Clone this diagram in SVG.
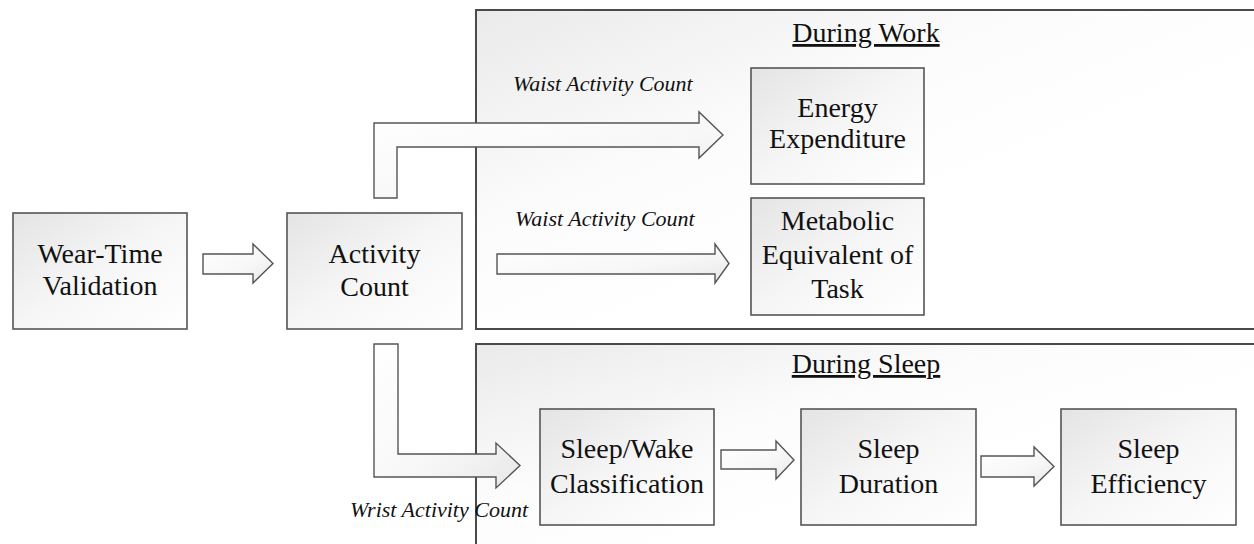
<svg xmlns="http://www.w3.org/2000/svg" width="1254" height="544" viewBox="0 0 1254 544">
  <defs>
    <linearGradient id="boxFill" x1="0" y1="0" x2="1" y2="1">
      <stop offset="0" stop-color="#e4e4e4"/>
      <stop offset="0.5" stop-color="#f6f6f6"/>
      <stop offset="1" stop-color="#ffffff"/>
    </linearGradient>
    <linearGradient id="panelFill" x1="0" y1="0" x2="0.6" y2="0.6">
      <stop offset="0" stop-color="#eaeaea"/>
      <stop offset="0.6" stop-color="#fcfcfc"/>
      <stop offset="1" stop-color="#ffffff"/>
    </linearGradient>
    <linearGradient id="arrowFill" x1="0" y1="0" x2="1" y2="1">
      <stop offset="0" stop-color="#ffffff"/>
      <stop offset="0.6" stop-color="#f7f7f7"/>
      <stop offset="1" stop-color="#e8e8e8"/>
    </linearGradient>
  </defs>
  <style>
    .panel { fill: url(#panelFill); stroke: #4a4a4a; stroke-width: 2; }
    .box { fill: url(#boxFill); stroke: #555555; stroke-width: 1.6; }
    .arrow { fill: url(#arrowFill); stroke: #555555; stroke-width: 1.4; stroke-linejoin: miter; }
    text { font-family: 'Liberation Serif', 'Noto Serif', 'DejaVu Serif', Tinos, 'Nimbus Roman', FreeSerif, 'Times New Roman', Times, serif; fill: #111111; }
    .label { font-size: 28px; text-anchor: middle; }
    .title { font-size: 28px; text-anchor: middle; text-decoration: underline; }
    .note { font-size: 22px; font-style: italic; }
  </style>

  <rect width="1254" height="544" fill="#ffffff"/>

  <!-- Context panels -->
  <g id="panel-work">
    <rect class="panel" x="476" y="10" width="780" height="319"/>
    <text class="title" x="866" y="42">During Work</text>
  </g>
  <g id="panel-sleep">
    <rect class="panel" x="476" y="344" width="780" height="220"/>
    <text class="title" x="866" y="373">During Sleep</text>
  </g>

  <!-- Connectors -->
  <g id="connectors">
    <path class="arrow" d="M203,254 L253,254 L253,244 L273,263.5 L253,283 L253,274 L203,274 Z"/>
    <path class="arrow" d="M374,198 L374,123 L699,123 L699,112 L723,135 L699,158 L699,147 L397,147 L397,198 Z"/>
    <path class="arrow" d="M497,254 L715,254 L715,244 L729,263.5 L715,283 L715,274 L497,274 Z"/>
    <path class="arrow" d="M374,344 L398,344 L398,454 L496,454 L496,443 L520,465.5 L496,488 L496,477 L374,477 Z"/>
    <path class="arrow" d="M721,450 L776,450 L776,441 L794,460 L776,479 L776,469 L721,469 Z"/>
    <path class="arrow" d="M981,456 L1034,456 L1034,447 L1054,466.5 L1034,486 L1034,477 L981,477 Z"/>
    <text class="note" x="513" y="91">Waist Activity Count</text>
    <text class="note" x="515" y="226">Waist Activity Count</text>
    <text class="note" x="350" y="517">Wrist Activity Count</text>
  </g>

  <!-- Process nodes -->
  <g id="wear-time-validation">
    <rect class="box" x="13" y="213" width="174" height="116"/>
    <text class="label" x="100" y="263">Wear-Time</text>
    <text class="label" x="100" y="295">Validation</text>
  </g>
  <g id="activity-count">
    <rect class="box" x="287" y="213" width="175" height="116"/>
    <text class="label" x="374.5" y="263">Activity</text>
    <text class="label" x="374.5" y="296">Count</text>
  </g>
  <g id="energy-expenditure">
    <rect class="box" x="751" y="68" width="173" height="116"/>
    <text class="label" x="837.5" y="117">Energy</text>
    <text class="label" x="837.5" y="148">Expenditure</text>
  </g>
  <g id="metabolic-equivalent">
    <rect class="box" x="751" y="198" width="173" height="117"/>
    <text class="label" x="837.5" y="230">Metabolic</text>
    <text class="label" x="837.5" y="264">Equivalent of</text>
    <text class="label" x="837.5" y="298">Task</text>
  </g>
  <g id="sleep-wake-classification">
    <rect class="box" x="540" y="409" width="174" height="116"/>
    <text class="label" x="627" y="458">Sleep/Wake</text>
    <text class="label" x="627" y="493">Classification</text>
  </g>
  <g id="sleep-duration">
    <rect class="box" x="801" y="409" width="175" height="116"/>
    <text class="label" x="888.5" y="458">Sleep</text>
    <text class="label" x="888.5" y="493">Duration</text>
  </g>
  <g id="sleep-efficiency">
    <rect class="box" x="1061" y="409" width="175" height="116"/>
    <text class="label" x="1148.5" y="458">Sleep</text>
    <text class="label" x="1148.5" y="493">Efficiency</text>
  </g>
</svg>
